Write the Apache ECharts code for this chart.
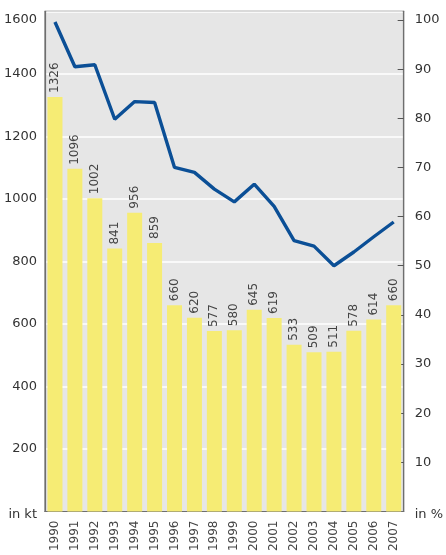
<!DOCTYPE html>
<html><head><meta charset="utf-8">
<script src="https://cdn.jsdelivr.net/npm/echarts@6/dist/echarts.min.js"></script>
<style>html,body{margin:0;padding:0;background:#fff}#c{width:446px;height:555px}</style>
</head><body><div id="c"></div>
<script>
const years = ['1990','1991','1992','1993','1994','1995','1996','1997','1998','1999','2000','2001','2002','2003','2004','2005','2006','2007'];
const amountKt = [1326,1096,1002,841,956,859,660,620,577,580,645,619,533,509,511,578,614,660];
const sharePct = [99.6,90.5,90.9,79.8,83.4,83.2,70.0,69.0,65.6,63.0,66.6,62.1,55.1,54.0,50.0,52.8,55.9,58.9];
const rightTickValues = [0,10,20,30,40,50,60,70,80,90,100];
const rightMin = 0;
const rightMax = 101.77;
const FONT = 'DejaVu Sans';
const chart = echarts.init(document.getElementById('c'), null, {renderer:'canvas'});
chart.setOption({
  animation:false,
  backgroundColor:'#ffffff',
  grid:{left:45,right:39,top:11.3,bottom:43.5,show:true,backgroundColor:'#e6e6e6',borderColor:'#6e6e6e',borderWidth:1.2},
  xAxis:{type:'category',data:years,
    axisLine:{show:true,lineStyle:{color:'#6e6e6e',width:1.2}},
    axisTick:{show:false},
    axisLabel:{rotate:90,color:'#444',fontFamily:FONT,fontSize:12,margin:9,interval:0}},
  yAxis:[
    {type:'value',min:0,max:1600,interval:200,position:'left',
     axisLine:{show:true,lineStyle:{color:'#6e6e6e',width:1.2}},
     axisTick:{show:false},
     splitLine:{show:true,lineStyle:{color:'#ffffff',width:1.5}},
     axisLabel:{color:'#333',fontFamily:FONT,fontSize:13,margin:8,
       formatter:v=>v===0?'{b|in kt}':(v===1600?'{t|1600}':String(v)),
       rich:{t:{fontFamily:FONT,fontSize:13,color:'#333',padding:[17,0,0,0]},
             b:{fontFamily:FONT,fontSize:13,color:'#333',padding:[6,0,0,0]}}}},
    {type:'value',min:rightMin,max:rightMax,position:'right',
     axisLine:{show:true,lineStyle:{color:'#6e6e6e',width:1.2}},
     axisTick:{show:true,inside:true,length:6,customValues:rightTickValues.slice(1),lineStyle:{color:'#555'}},
     splitLine:{show:false},
     axisLabel:{color:'#333',fontFamily:FONT,fontSize:13,margin:11,customValues:rightTickValues,
       formatter:v=>v===0?'{b|in %}':String(v),
       rich:{b:{fontFamily:FONT,fontSize:13,color:'#333',padding:[6,0,0,0]}}}}
  ],
  series:[
    {type:'bar',data:amountKt,yAxisIndex:0,barWidth:15,
     itemStyle:{color:'#f6ec74'},
     label:{show:true,position:'top',rotate:90,align:'left',verticalAlign:'middle',distance:4,
       color:'#444',fontFamily:FONT,fontSize:12}},
    {type:'line',data:sharePct,yAxisIndex:1,symbol:'none',
     lineStyle:{color:'#0b4f96',width:3.4},z:5}
  ]
});
</script></body></html>
